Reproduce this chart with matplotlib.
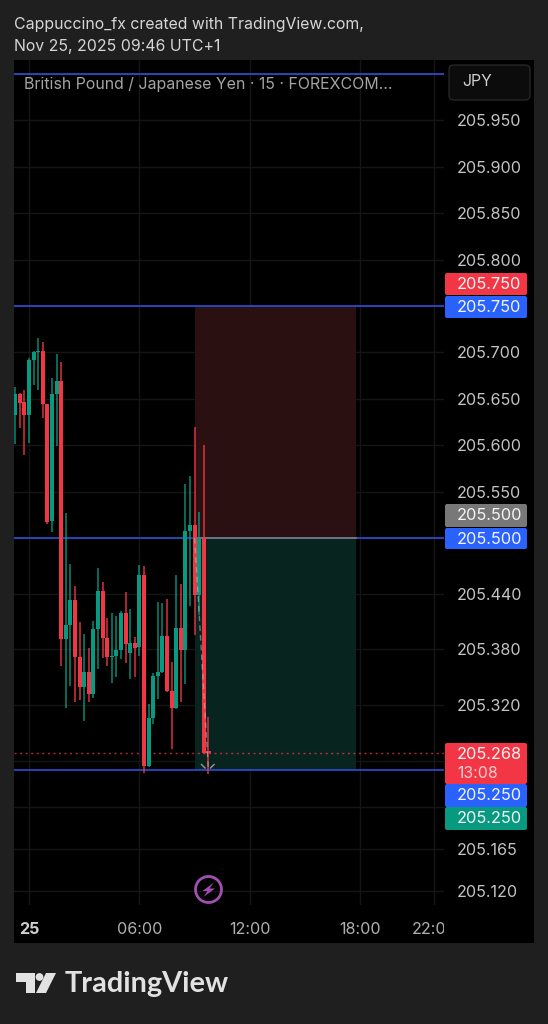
import matplotlib
matplotlib.use('Agg')
import matplotlib.pyplot as plt
import matplotlib.patches as patches
from matplotlib.transforms import Bbox

plt.rcParams['font.family'] = ['Inter', 'DejaVu Sans']

# candles, 15 minute bars, first one at 23:15
first_bar = -3
opens = [205.633, 205.655, 205.647, 205.633, 205.692, 205.700, 205.702, 205.644, 205.518, 205.655,
         205.669, 205.391, 205.406, 205.433, 205.372, 205.339, 205.356, 205.332, 205.402, 205.443,
         205.392, 205.372, 205.373, 205.379, 205.419, 205.376, 205.387, 205.383, 205.460, 205.254,
         205.306, 205.351, 205.356, 205.394, 205.335, 205.317, 205.403, 205.379, 205.508, 205.514,
         205.439, 205.500, 205.270]
highs = [205.663, 205.656, 205.659, 205.694, 205.702, 205.716, 205.711, 205.644, 205.672, 205.698,
         205.690, 205.527, 205.472, 205.448, 205.409, 205.397, 205.381, 205.411, 205.468, 205.453,
         205.414, 205.419, 205.416, 205.421, 205.442, 205.423, 205.393, 205.471, 205.470, 205.321,
         205.355, 205.431, 205.430, 205.434, 205.366, 205.460, 205.450, 205.558, 205.567, 205.620,
         205.528, 205.600, 205.307]
lows = [205.601, 205.619, 205.589, 205.602, 205.665, 205.659, 205.629, 205.515, 205.506, 205.599,
        205.362, 205.317, 205.341, 205.323, 205.325, 205.303, 205.323, 205.328, 205.359, 205.371,
        205.362, 205.344, 205.350, 205.370, 205.365, 205.348, 205.350, 205.373, 205.247, 205.253,
        205.300, 205.327, 205.354, 205.334, 205.273, 205.316, 205.323, 205.343, 205.427, 205.395,
        205.417, 205.267, 205.246]
closes = [205.655, 205.645, 205.633, 205.692, 205.700, 205.702, 205.644, 205.517, 205.655, 205.669,
          205.391, 205.406, 205.433, 205.372, 205.339, 205.356, 205.332, 205.402, 205.443, 205.392,
          205.372, 205.373, 205.379, 205.419, 205.386, 205.387, 205.381, 205.460, 205.254, 205.306,
          205.351, 205.356, 205.394, 205.335, 205.317, 205.403, 205.379, 205.508, 205.514, 205.439,
          205.500, 205.268, 205.268]

price_ticks = [206.0, 205.95, 205.9, 205.85, 205.8, 205.75, 205.7, 205.65, 205.6, 205.55, 205.5,
               205.44, 205.38, 205.32, 205.26, 205.21, 205.165, 205.12]
hidden_ticks = [206.0, 205.75, 205.5, 205.26, 205.21]
time_ticks = [0, 6, 12, 18, 22]
time_labels = ['25', '06:00', '12:00', '18:00', '22:00']
h_lines = [206.0, 205.75, 205.5, 205.25]
last_price = 205.268

# position tool
pos_start, pos_end = 9.0, 17.75
pos_top, pos_mid, pos_bottom = 205.75, 205.5, 205.25
trade_x = [9.0, 9.75]
trade_y = [205.5, 205.25]

RED = '#f23645'
GREEN = '#089981'
BLUE = '#2962ff'
BG = '#1f1f1f'

fig = plt.figure(figsize=(5.48, 10.24), dpi=100, facecolor=BG)

# pixel layer for everything around the chart
under = fig.add_axes([0, 0, 1, 1], zorder=0)
under.set_xlim(0, 548)
under.set_ylim(1024, 0)
under.axis('off')
under.add_patch(patches.Rectangle((14, 60), 520, 883, facecolor='black', edgecolor='none'))

ax = fig.add_axes([14 / 548, (1024 - 905) / 1024, 430 / 548, (905 - 59) / 1024], zorder=1)
ax.set_facecolor('none')
ax.set_xlim(-0.815, 22.55)
ax.set_ylim(205.1045, 206.0162)
for s in ax.spines.values():
    s.set_visible(False)

ax.yaxis.tick_right()
ax.set_yticks(price_ticks)
ax.set_yticklabels(['' if p in hidden_ticks else '%.3f' % p for p in price_ticks])
ax.set_xticks(time_ticks)
ax.set_xticklabels(time_labels)
ax.tick_params(axis='y', length=0, pad=9.5, labelsize=11.6, labelcolor='#c4c4c4')
ax.tick_params(axis='x', length=0, pad=12, labelsize=11.6, labelcolor='#b0b0b0')
ax.grid(True, color='#151515', linewidth=1)
ax.set_axisbelow(True)

xlabels = ax.get_xticklabels()
xlabels[0].set_fontweight('bold')
xlabels[0].set_color('#d0d0d0')
xlabels[-1].set_clip_box(Bbox([[14, 0], [444, 1024]]))
xlabels[-1].set_clip_on(True)

ax.axhspan(pos_mid, pos_top, xmin=(pos_start + 0.815) / 23.365, xmax=(pos_end + 0.815) / 23.365,
           facecolor='#2b1012', edgecolor='none', zorder=1)
ax.axhspan(pos_bottom, pos_mid, xmin=(pos_start + 0.815) / 23.365, xmax=(pos_end + 0.815) / 23.365,
           facecolor='#07241f', edgecolor='none', zorder=1)

for level in h_lines:
    ax.axhline(level, color='#2a50d8', linewidth=1.2, zorder=2)
ax.plot([pos_start, pos_end], [pos_mid, pos_mid], color='#7c7c7c', linewidth=1.2, zorder=2.5)
ax.axhline(last_price, color=RED, linewidth=1, linestyle=(0, (1.5, 2.5)), alpha=0.75, zorder=2)

for i in range(len(opens)):
    t = (first_bar + i) / 4
    col = GREEN if closes[i] >= opens[i] else RED
    ax.vlines(t, lows[i], highs[i], color=col, linewidth=1.1, alpha=0.9, zorder=3)
    ax.bar(t, abs(closes[i] - opens[i]), width=0.225, bottom=min(opens[i], closes[i]),
           color=col, linewidth=0, zorder=4)

ax.plot(trade_x, trade_y, color='#b8c4c0', linewidth=1, linestyle=(0, (4, 3)), alpha=0.55, zorder=5)

over = fig.add_axes([0, 0, 1, 1], zorder=2)
over.set_xlim(0, 548)
over.set_ylim(1024, 0)
over.axis('off')
over.set_facecolor('none')

# header
over.text(14, 24, 'Cappuccino_fx created with TradingView.com,', color='#d6d6d6', fontsize=11.4, va='center')
over.text(14, 47, 'Nov 25, 2025 09:46 UTC+1', color='#d6d6d6', fontsize=11.4, va='center')
over.text(24, 84, 'British Pound / Japanese Yen · 15 · FOREXCOM...', color='#a4a4a4', fontsize=11.45, va='center')

# currency button
over.add_patch(patches.FancyBboxPatch((449, 65), 81, 35, boxstyle='round,pad=0,rounding_size=5',
                                      facecolor='#0c0c0c', edgecolor='#262626', linewidth=1))
over.text(462, 82, 'JPY', color='#d0d0d0', fontsize=11.4, va='center')

# price tags on the axis
tags = [(273, 295, '#f23645', '205.750'), (296, 318, '#2962ff', '205.750'),
        (504, 527, '#787878', '205.500'), (528, 549, '#2962ff', '205.500'),
        (784, 807, '#2962ff', '205.250'), (807, 830, '#089981', '205.250'),
        (743, 784, '#f23645', '205.268')]
for top, bottom, col, label in tags:
    over.add_patch(patches.FancyBboxPatch((445, top), 82, bottom - top,
                                          boxstyle='round,pad=0,rounding_size=2',
                                          facecolor=col, edgecolor='none'))
    yc = top + 11.5
    over.text(489, yc, label, color='#f4f4f4', fontsize=11.8, va='center', ha='center')
over.text(457, 773, '13:08', color='#f8ccd0', fontsize=11.4, va='center')

# exit arrow
over.plot([201.5, 205], [764.5, 768], color='#9a9a9a', linewidth=1)
over.plot([214, 210.5], [764.5, 768], color='#9a9a9a', linewidth=1)

# bolt icon
over.add_patch(patches.Circle((208.5, 889.5), 13, facecolor='none', edgecolor='#a24fb4', linewidth=2))
over.add_patch(patches.Polygon([[214, 882.5], [202.5, 891], [207.5, 891], [203.5, 897],
                                [215, 888.5], [209.5, 888.5]], closed=True,
                               facecolor='#a24fb4', edgecolor='none'))

# logo
LOGO = '#e2e2e2'
over.add_patch(patches.Polygon([[16, 973], [35, 973], [35, 993], [26, 993], [26, 982], [16, 982]],
                               closed=True, facecolor=LOGO, edgecolor='none'))
over.add_patch(patches.Circle((39.5, 977), 3.9, facecolor=LOGO, edgecolor='none'))
over.add_patch(patches.Polygon([[46, 973], [56, 973], [46, 993], [36, 993]],
                               closed=True, facecolor=LOGO, edgecolor='none'))
over.text(65, 984, 'TradingView', color=LOGO, fontsize=20.8, fontweight='bold',
          family=['Lato', 'DejaVu Sans'], va='center')

fig.savefig('out.png', dpi=100, facecolor=BG)
